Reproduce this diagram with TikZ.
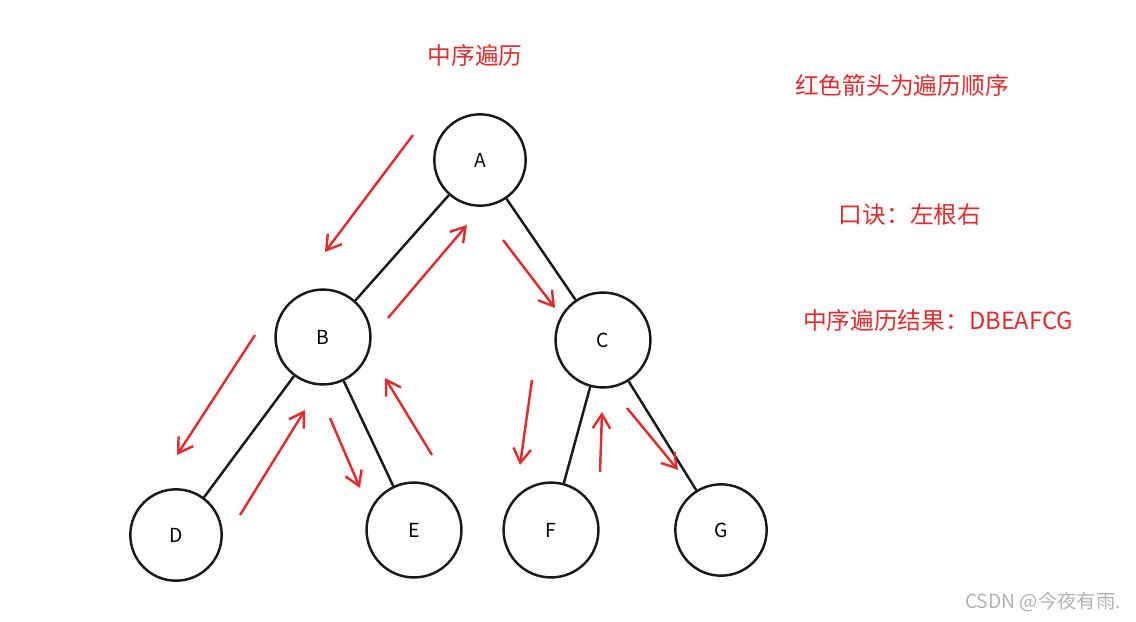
\documentclass[tikz,border=0pt]{standalone}
\usepackage{fontspec}
\setmainfont{Noto Sans CJK SC}
\usetikzlibrary{arrows.meta}
\definecolor{walkred}{RGB}{222,45,45}
\tikzset{
  treenode/.style={circle,draw=black!90,line width=1.4pt,minimum size=54pt,inner sep=0pt,font=\fontsize{11}{13}\selectfont},
  treeedge/.style={black!90,line width=1.4pt},
  walk/.style={walkred,line width=1.4pt,-{Straight Barb[length=8pt,width=10pt]}},
  note/.style={walkred,font=\fontsize{13.5}{16}\selectfont}
}
\begin{document}
\begin{tikzpicture}[x=0.02cm,y=-0.02cm]
\useasboundingbox (0,0) rectangle (1136,622);

% tree nodes
\node[treenode,minimum size=52pt] (A) at (480,160) {A};
\node[treenode] (B) at (323,337) {B};
\node[treenode] (C) at (603,340) {C};
\node[treenode,minimum size=52pt] (D) at (176,535) {D};
\node[treenode] (E) at (414,530) {E};
\node[treenode] (F) at (551,530) {F};
\node[treenode,minimum size=52pt] (G) at (721,530) {G};

% tree edges
\draw[treeedge] (A) -- (B);
\draw[treeedge] (A) -- (C);
\draw[treeedge] (B) -- (D);
\draw[treeedge] (B) -- (E);
\draw[treeedge] (C) -- (F);
\draw[treeedge] (C) -- (G);

% traversal arrows
\coordinate (a1) at (413,135); \coordinate (a2) at (325,252);
\coordinate (b1) at (255,335); \coordinate (b2) at (177,455);
\coordinate (c1) at (240,515); \coordinate (c2) at (305,410);
\coordinate (d1) at (330,418); \coordinate (d2) at (360,488);
\coordinate (e1) at (432,455); \coordinate (e2) at (385,378);
\coordinate (f1) at (388,318); \coordinate (f2) at (467,225);
\coordinate (g1) at (503,240); \coordinate (g2) at (555,308);
\coordinate (h1) at (532,380); \coordinate (h2) at (520,465);
\coordinate (i1) at (600,472); \coordinate (i2) at (602,412);
\coordinate (j1) at (627,408); \coordinate (j2) at (678,470);
\foreach \s in {a,b,c,d,e,f,g,h,i,j}
  \draw[walk] (\s1) -- (\s2);

% notes
\node[note] (title) at (475,55) {中序遍历};
\node[note] (rule) at (902,85) {红色箭头为遍历顺序};
\node[note] (mnemo) at (910,215) {口诀：左根右};
\node[note] (result) at (938,320) {中序遍历结果：DBEAFCG};
\node[gray!60,font=\fontsize{11}{13}\selectfont] (mark) at (1043,602) {CSDN @今夜有雨.};
\end{tikzpicture}
\end{document}
